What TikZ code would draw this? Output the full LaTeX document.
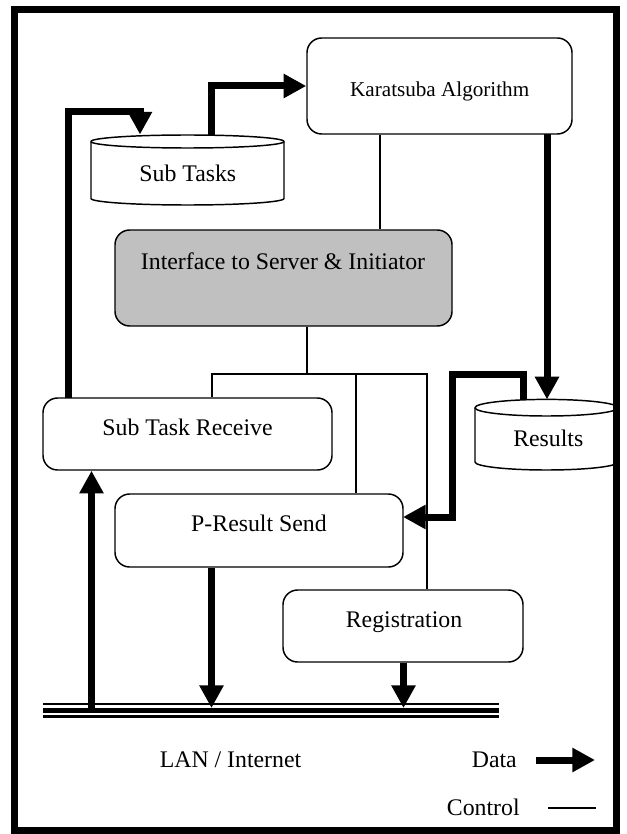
\documentclass[tikz,border=0pt]{standalone}
\usepackage{fontspec}
\setmainfont{Liberation Serif}
\usetikzlibrary{arrows.meta}
\definecolor{boxgray}{RGB}{192,192,192}
\begin{document}
\begin{tikzpicture}[x=0.75pt,y=-0.75pt,
  box/.style={draw, line width=1.1pt, rounded corners=11pt, inner sep=0pt, fill=white},
  txt/.style={anchor=base, inner sep=0pt, font=\fontsize{17.85}{20}\selectfont},
  smalltxt/.style={anchor=base, inner sep=0pt, font=\fontsize{15.85}{18}\selectfont},
  data/.style={line width=5.25pt, line join=miter, -{Triangle[width=17.25pt,length=17pt]}},
  ctrl/.style={line width=1pt},
  cyl/.style={line width=1.1pt, fill=white},
  lan/.style={line cap=butt}]
\useasboundingbox (0,0) rectangle (626,834);

% ---------- boxes ----------
\node[box, minimum width=198.75pt, minimum height=72pt] (ka) at (439.5,86) {};
\node[smalltxt] (kat) at (439.7,97) {Karatsuba Algorithm};

\node[box, fill=boxgray, minimum width=252.75pt, minimum height=72pt] (if) at (283.5,278) {};
\node[txt] (ift) at (283,269) {Interface to Server \& Initiator};

\node[box, minimum width=216.75pt, minimum height=54pt] (rc) at (187.5,434) {};
\node[txt] (rct) at (187.5,435.5) {Sub Task Receive};

\node[box, minimum width=216pt, minimum height=54.75pt] (pr) at (259,530.5) {};
\node[txt] (prt) at (259,531.5) {P-Result Send};

\node[box, minimum width=180pt, minimum height=54pt] (rg) at (403,626) {};
\node[txt] (rgt) at (404,627.5) {Registration};

% ---------- cylinders ----------
\filldraw[cyl] (91,141.5) -- (91,198.5) arc[start angle=180, end angle=0, x radius=96.5, y radius=6.5]
   -- (284,141.5) arc[start angle=0, end angle=-180, x radius=96.5, y radius=6.5] -- cycle;
\draw[line width=1.1pt] (91,141.5) arc[start angle=180, end angle=0, x radius=96.5, y radius=6.5];
\node[txt] (st) at (187.8,181.5) {Sub Tasks};

\filldraw[cyl] (475,407.7) -- (475,462) arc[start angle=180, end angle=0, x radius=71.5, y radius=8]
   -- (618,407.7) arc[start angle=0, end angle=-180, x radius=71.5, y radius=8.3] -- cycle;
\draw[line width=1.1pt] (475,407.7) arc[start angle=180, end angle=0, x radius=71.5, y radius=8.3];
\node[txt] (rs) at (548.3,446.5) {Results};

% ---------- named connector ends ----------
\coordinate (stout) at (211.5,135.3);
\coordinate (stin)  at (140,134.5);
\coordinate (rcout) at (68.5,398);
\coordinate (kaout) at (547,134);
\coordinate (rsin)  at (547,399.4);
\coordinate (rsout) at (523.5,400);
\coordinate (prin)  at (403,517);
\coordinate (lanrc) at (91.5,710);
\coordinate (lanpr) at (211.5,708);
\coordinate (lanrg) at (403.5,708);
\coordinate (ctl)   at (307,374);

% ---------- control lines ----------
\draw[ctrl] (ka.south -| 380,0) -- (if.north -| 380,0);
\draw[ctrl] (if.south -| ctl) -- (ctl);
\draw[ctrl] (rc.north -| 212,0) -- (212,374) -- (427,374) -- (rg.north -| 427,0);
\draw[ctrl] (356,374) -- (pr.north -| 356,0);

% ---------- data arrows ----------
\draw[data] (stout) |- (ka.west);
\draw[data] (rcout) -- (68.5,112) -- (140,112) -- (stin);
\draw[data] (kaout) -- (rsin);
\draw[data] (rsout) -- (523.5,374) -- (452,374) -- (452,517) -- (prin);
\draw[data] (lanrc) -- (rc.south -| lanrc);
\draw[data] (pr.south -| lanpr) -- (lanpr);
\draw[data] (rg.south -| lanrg) -- (lanrg);

% ---------- LAN ----------
\draw[lan, line width=1.9pt] (43,704) -- (499,704);
\draw[lan, line width=3.4pt] (43,710.3) -- (499,710.3);
\draw[lan, line width=2.3pt] (43,716.3) -- (499,716.3);
\node[txt] (lant) at (230.5,767) {LAN / Internet};

% ---------- legend ----------
\node[txt] (dt) at (494.3,767) {Data};
\coordinate (dA) at (536,760);
\coordinate (dB) at (595,760);
\draw[data] (dA) -- (dB);
\node[txt] (ct) at (483.3,815) {Control};
\coordinate (cA) at (548,808);
\coordinate (cB) at (596,808);
\draw[ctrl] (cA) -- (cB);

% ---------- frame ----------
\draw[line width=5.25pt] (14.5,9.7) rectangle (616.7,830.3);
\end{tikzpicture}
\end{document}
